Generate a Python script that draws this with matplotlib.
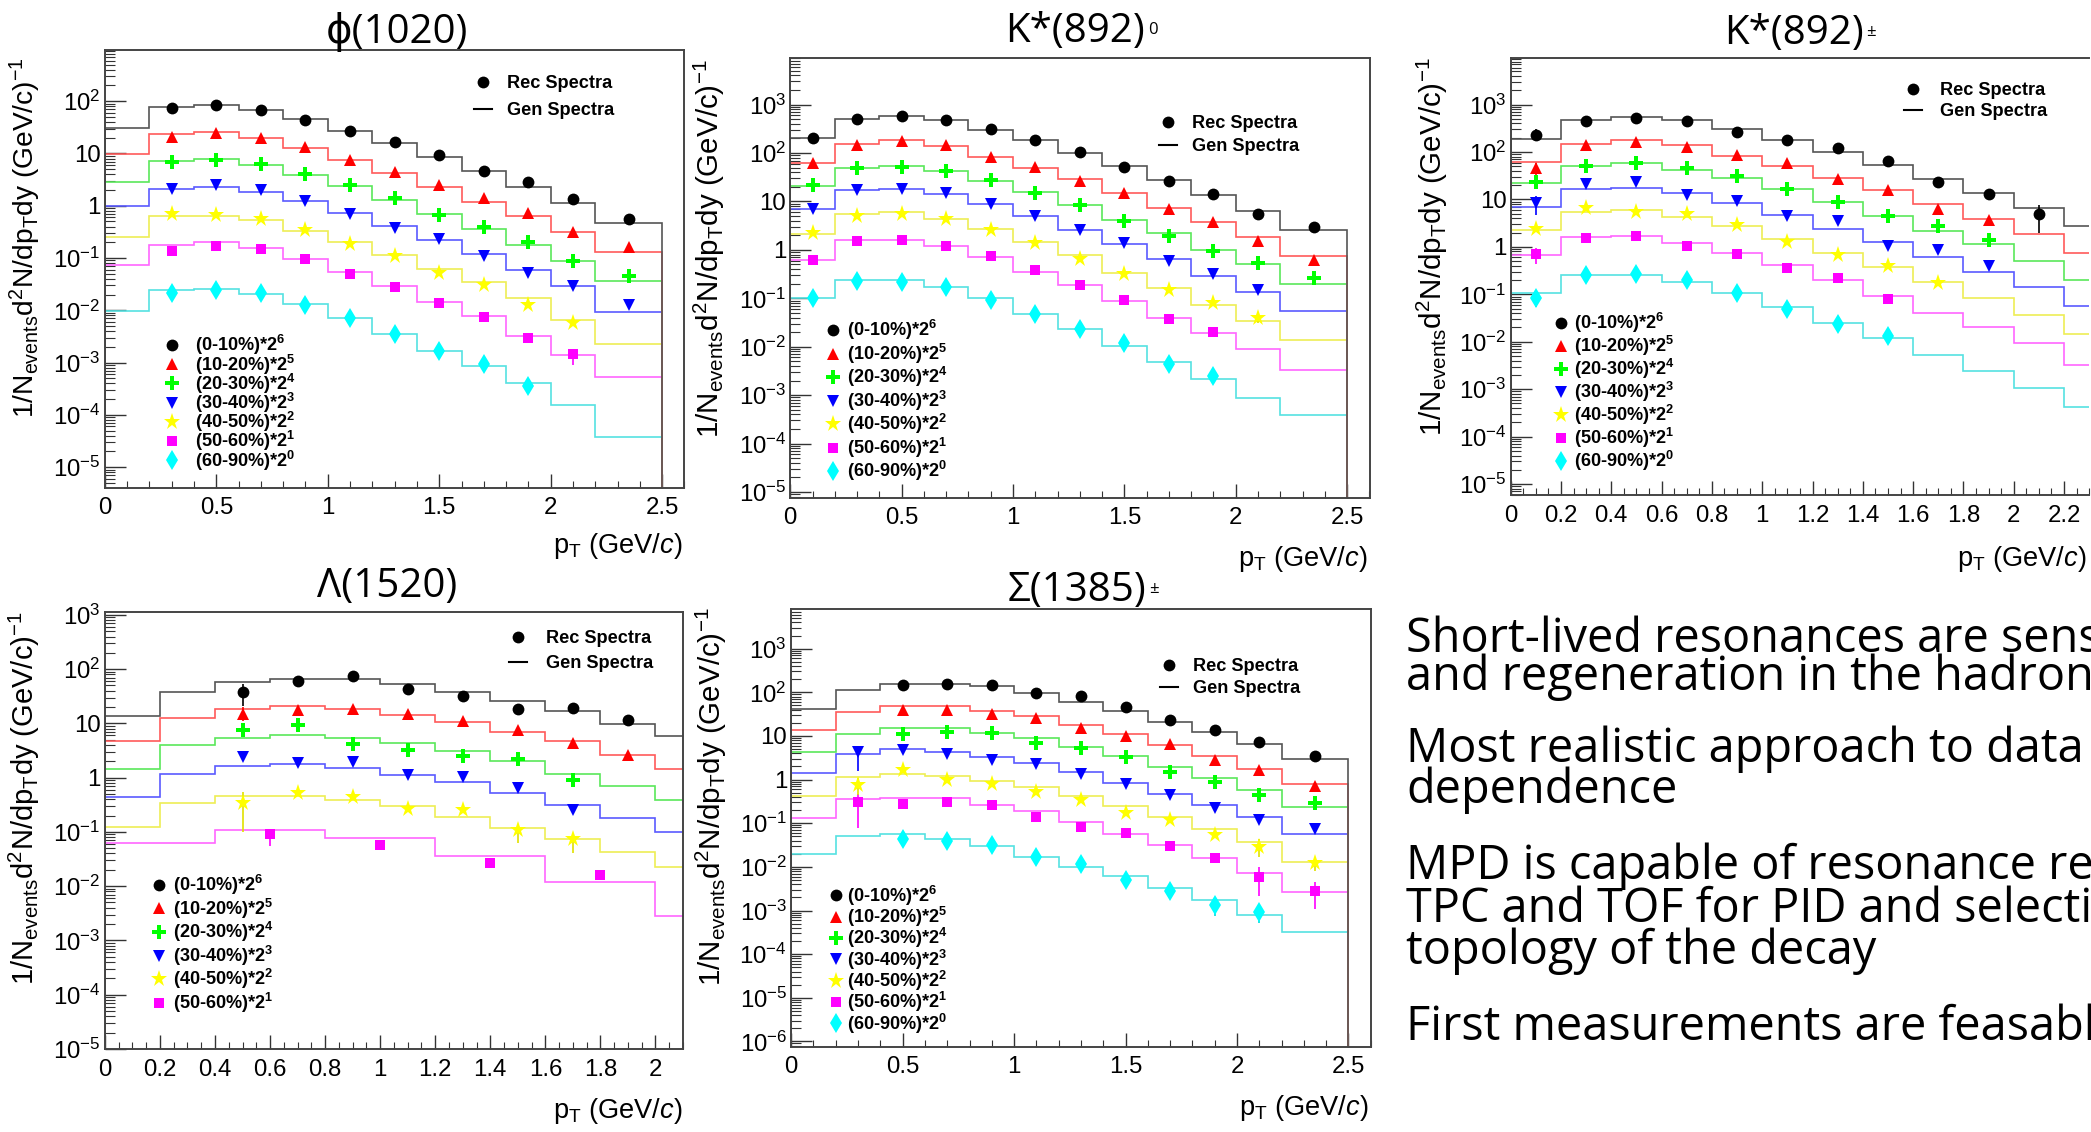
import numpy as np
import matplotlib
matplotlib.use('Agg')
import matplotlib.pyplot as plt
from matplotlib import font_manager as fm
from matplotlib.lines import Line2D
from matplotlib.text import Annotation
from matplotlib.ticker import LogLocator, MultipleLocator, FuncFormatter, NullFormatter

W, H, DPI = 2091, 1132, 100

names = {f.name for f in fm.fontManager.ttflist}
ROOTF = 'Liberation Sans'
SLIDEF = ['Open Sans', 'DejaVu Sans'] if 'Open Sans' in names else ['Lato', 'DejaVu Sans']

plt.rcParams['mathtext.fontset'] = 'custom'
plt.rcParams['mathtext.rm'] = ROOTF
plt.rcParams['mathtext.it'] = ROOTF + ':italic'
plt.rcParams['mathtext.bf'] = ROOTF + ':bold'
plt.rcParams['mathtext.default'] = 'regular'

# ---------------- data ----------------
CENTRALITY = ['0-10%', '10-20%', '20-30%', '30-40%', '40-50%', '50-60%', '60-90%']
SCALE_EXP = [6, 5, 4, 3, 2, 1, 0]

EDGES = [0, 0.2, 0.4, 0.6, 0.8, 1.0, 1.2, 1.4, 1.6, 1.8, 2.0, 2.2, 2.5]
REC_X = [0.1, 0.3, 0.5, 0.7, 0.9, 1.1, 1.3, 1.5, 1.7, 1.9, 2.1, 2.35]

# phi(1020)
PHI_GEN = [
    [30.8, 79, 85, 67, 45.5, 27.5, 15.9, 8.5, 4.66, 2.33, 1.13, 0.476],
    [9.6, 23.5, 26.2, 20.1, 12.5, 7.5, 4.17, 2.33, 1.19, 0.63, 0.311, 0.131],
    [2.9, 7.2, 7.8, 6.0, 3.85, 2.4, 1.28, 0.684, 0.364, 0.18, 0.0885, 0.037],
    [0.97, 2.12, 2.33, 1.84, 1.24, 0.72, 0.413, 0.22, 0.117, 0.06, 0.0295, 0.0093],
    [0.258, 0.65, 0.65, 0.54, 0.336, 0.2, 0.112, 0.063, 0.0345, 0.017, 0.0066, 0.0023],
    [0.073, 0.18, 0.2, 0.153, 0.0955, 0.055, 0.0295, 0.0145, 0.0077, 0.00325, 0.00137, 0.000533],
    [0.0098, 0.0245, 0.026, 0.0209, 0.013, 0.00715, 0.00352, 0.00168, 0.000855, 0.000408, 0.000151, 0.0000385],
]
PHI_REC = [
    [None, 74, 83, 67, 44, 27.5, 16.6, 9.4, 4.7, 2.8, 1.34, 0.566],
    [None, 20.7, 24.3, 20, 13.1, 7.5, 4.4, 2.5, 1.43, 0.72, 0.31, 0.161],
    [None, 7.0, 7.5, 6.2, 4.0, 2.5, 1.39, 0.68, 0.39, 0.2, 0.0885, 0.045],
    [None, 2.05, 2.5, 2.0, 1.24, 0.70, 0.376, 0.227, 0.107, 0.051, 0.0295, 0.0124],
    [None, 0.684, 0.66, 0.566, 0.347, 0.185, 0.107, 0.051, 0.031, 0.0124, 0.0058, None],
    [None, 0.137, 0.171, 0.149, 0.0955, 0.049, 0.0285, 0.0141, 0.0075, 0.0029, 0.00144, None],
    [None, 0.0215, 0.0244, 0.021, 0.0128, 0.00714, 0.00352, 0.00168, 0.000925, 0.000349, None, None],
]
PHI_ERR = [(5, 10, 0.00091, 0.0018)]

# K*(892)0
K0_GEN = [
    [205, 494, 570, 478, 297, 182, 102, 53, 27.2, 13.7, 6.4, 2.57],
    [63, 152, 188, 139, 82, 48.5, 28.6, 14.9, 7.4, 3.79, 1.81, 0.75],
    [21.2, 48.5, 55, 43, 26.2, 15.5, 8.4, 4.13, 2.23, 1.01, 0.5, 0.2],
    [7.0, 16.9, 18.5, 14.2, 8.8, 4.93, 2.57, 1.32, 0.65, 0.295, 0.134, 0.0537],
    [2.12, 5.57, 6.1, 4.28, 2.67, 1.44, 0.78, 0.34, 0.16, 0.0724, 0.034, 0.0141],
    [0.63, 1.57, 1.57, 1.21, 0.713, 0.352, 0.19, 0.0863, 0.039, 0.0193, 0.0091, 0.00333],
    [0.103, 0.24, 0.24, 0.174, 0.103, 0.0466, 0.023, 0.0104, 0.00473, 0.00215, 0.00089, 0.00039],
]
K0_REC = [
    [205, 503, 589, 478, 308, 188, 103, 51, 26, 14.2, 5.4, 2.9],
    [63, 145, 175, 145, 82, 51, 27, 14.9, 7.0, 3.79, 1.52, 0.63],
    [22, 48.5, 51, 43, 27.7, 14.9, 8.4, 3.93, 1.98, 0.96, 0.547, 0.261],
    [7.0, 16.9, 17.8, 14.9, 8.8, 4.93, 2.57, 1.39, 0.597, 0.312, 0.146, None],
    [2.23, 4.93, 5.57, 4.28, 2.57, 1.36, 0.65, 0.323, 0.146, 0.079, 0.039, None],
    [0.63, 1.49, 1.57, 1.21, 0.75, 0.385, 0.184, 0.091, 0.0377, 0.02, None, None],
    [0.103, 0.227, 0.219, 0.168, 0.094, 0.0483, 0.023, 0.0118, 0.00433, 0.00243, None, None],
]
K0_ERR = [(4, 10, 0.031, 0.05)]

# K*(892)+-
KPM_GEN = [
    [185, 470, 543, 470, 300, 181, 102, 52.5, 26.5, 13.6, 6.5, 2.7],
    [62.8, 146, 181, 141, 82, 49.7, 29, 15.5, 7.9, 3.87, 1.85, 0.73],
    [22, 49.7, 59.5, 41.5, 29, 16.9, 9.0, 4.39, 2.14, 1.14, 0.508, 0.2],
    [6.9, 16.3, 17.5, 13.6, 8.5, 4.63, 2.43, 1.25, 0.61, 0.296, 0.145, 0.0567],
    [2.26, 5.45, 5.96, 4.23, 2.7, 1.49, 0.755, 0.374, 0.179, 0.0841, 0.0375, 0.0147],
    [0.69, 1.63, 1.69, 1.2, 0.755, 0.425, 0.2, 0.092, 0.041, 0.02, 0.0092, 0.0033],
    [0.106, 0.257, 0.257, 0.179, 0.106, 0.0537, 0.0252, 0.0123, 0.00538, 0.0024, 0.00107, 0.00042],
]
KPM_REC = [
    [229, 446, 533, 461, 260, 175, 122, 65, 23, 13.2, 5.0, None],
    [45.4, 138, 160, 129, 85, 59.5, 27.5, 16, 6.3, 3.67, None, None],
    [23, 49.7, 57.4, 45.4, 31.7, 16.9, 9.0, 4.39, 2.7, 1.37, None, None],
    [8.5, 21.4, 23.4, 12.2, 9.33, 4.39, 3.54, 1.04, 0.84, 0.4, None, None],
    [2.43, 6.5, 5.55, 4.98, 2.9, 1.25, 0.665, 0.4, 0.173, None, None, None],
    [0.70, 1.55, 1.69, 1.04, 0.70, 0.355, 0.226, 0.08, None, None, None, None],
    [0.084, 0.257, 0.27, 0.2, 0.106, 0.049, 0.0239, 0.0132, None, None, None, None],
]
KPM_ERR = [(0, 10, 1.95, 7.5), (1, 0, 31.6, 59), (3, 0, 4.8, 11.8), (5, 0, 0.43, 0.95),
           (6, 0, 0.053, 0.108), (0, 0, 170, 300)]

# Lambda(1520)
LAM_EDGES = [0, 0.2, 0.4, 0.6, 0.8, 1.0, 1.2, 1.4, 1.6, 1.8, 2.0, 2.2]
LAM_EDGES_WIDE = [0, 0.4, 0.8, 1.2, 1.6, 2.0, 2.4]
LAM_REC_X = [0.5, 0.7, 0.9, 1.1, 1.3, 1.5, 1.7, 1.9]
LAM_REC_X_WIDE = [0.6, 1.0, 1.4, 1.8]
LAM_GEN = [
    [13.7, 38.7, 57, 66.6, 64.6, 52.8, 37.6, 26.3, 17.1, 9.6, 5.77],
    [4.65, 12.7, 18.5, 20.9, 18.7, 14.2, 10.4, 7.06, 4.65, 2.58, 1.46],
    [1.46, 3.92, 5.42, 6.05, 5.34, 4.44, 3.1, 2.05, 1.19, 0.69, 0.39],
    [0.449, 1.19, 1.67, 1.81, 1.5, 1.13, 0.847, 0.532, 0.31, 0.177, 0.1],
    [0.122, 0.345, 0.456, 0.456, 0.39, 0.305, 0.191, 0.117, 0.0734, 0.0427, 0.023],
    [0.0628, 0.108, 0.0769, 0.0355, 0.0118, 0.00284],
]
LAM_REC = [
    [38.7, 61.7, 74.3, 43.9, 32.2, 18.5, 19.3, 11.8],
    [14.8, 17.9, 18.5, 14.8, 11.2, 7.63, 4.3, 2.66],
    [7.63, 9.33, 4.1, 3.26, 2.47, 2.21, 0.9, None],
    [2.39, 1.84, 1.95, 1.1, 1.02, 0.641, 0.253, None],
    [0.345, 0.532, 0.436, 0.265, 0.253, 0.108, 0.0734, None],
    [0.0898, 0.0564, 0.0268, 0.0163],
]
LAM_ERR = [(0, 0, 20.9, 52.8), (4, 0, 0.1, 0.55), (4, 5, 0.0635, 0.134), (4, 6, 0.04, 0.095),
           (1, 0, 11, 20), (5, 0, 0.0546, 0.108)]

# Sigma(1385)+-
SIG_GEN = [
    [41.7, 113, 157, 157, 137, 94, 60.8, 36.5, 20.7, 12.4, 6.64, 3.0],
    [13.4, 35.2, 48.4, 48.4, 37.9, 28.5, 18.1, 11.1, 6.28, 3.43, 1.77, 0.784],
    [4.39, 11.1, 15.6, 15.6, 11.7, 8.83, 5.5, 3.43, 1.94, 1.1, 0.568, 0.233],
    [1.41, 3.77, 5.0, 4.39, 3.3, 2.35, 1.46, 0.83, 0.47, 0.267, 0.137, 0.0555],
    [0.428, 1.14, 1.38, 1.21, 0.912, 0.687, 0.428, 0.243, 0.137, 0.0736, 0.0366, 0.0129],
    [0.132, 0.354, 0.389, 0.375, 0.267, 0.193, 0.107, 0.0555, 0.0314, 0.0156, 0.00732, 0.00269],
    [0.0196, 0.0514, 0.0555, 0.0426, 0.0303, 0.0171, 0.0101, 0.00605, 0.00324, 0.0017, 0.0008, 0.000323],
]
SIG_REC = [
    [None, None, 151, 157, 145, 94, 82, 45.7, 22.7, 13.6, 7.3, 3.56],
    [None, None, 38.6, 38.6, 31.3, 25.9, 15.6, 10.1, 6.64, 2.84, 1.67, 0.727],
    [None, None, 11.3, 12.4, 11.7, 7.03, 5.2, 3.3, 1.46, 0.877, 0.445, 0.293],
    [None, 4.39, 4.73, 3.77, 2.84, 2.26, 1.33, 0.784, 0.445, 0.221, 0.118, 0.075],
    [None, 0.755, 1.67, 1.0, 0.784, 0.516, 0.334, 0.172, 0.12, 0.0533, 0.0286, 0.0122],
    [None, 0.304, 0.282, 0.304, 0.267, 0.137, 0.081, 0.0586, 0.0303, 0.0156, 0.00573, 0.00274],
    [None, None, 0.0442, 0.0387, 0.032, 0.0171, 0.0117, 0.005, 0.00274, 0.00133, 0.00091, None],
]
SIG_ERR = [(3, 1, 1.6, 6.0), (5, 1, 0.078, 0.47), (5, 10, 0.00214, 0.0098), (5, 11, 0.0011, 0.00457),
           (6, 9, 0.00075, 0.00191), (6, 10, 0.00051, 0.00134), (4, 10, 0.0172, 0.0444),
           (4, 11, 0.0082, 0.0171), (4, 1, 0.45, 1.1)]

TITLES = ['\u03d5(1020)', 'K*(892)', 'K*(892)', '\u039b(1520)', '\u03a3(1385)']
TITLE_SUFFIX = [None, '0', '\u00b1', None, '\u00b1']

BODY_LINES = [
    'Short-lived resonances are sensitive',
    'and regeneration in the hadronic',
    'Most realistic approach to data',
    'dependence',
    'MPD is capable of resonance reconstruction',
    'TPC and TOF for PID and selection',
    'topology of the decay',
    'First measurements are feasable',
]

# ---------------- style ----------------
COLORS = ['#000000', '#ff0000', '#00ff00', '#0000ff', '#ffff00', '#ff00ff', '#00ffff']
LINE_COLORS = ['#555555', '#ff5a5a', '#5ae85a', '#5a5aff', '#eeee55', '#ff66ff', '#55e2e2']
ERR_COLORS = ['#000000', '#ff0000', '#00cc00', '#0000ff', '#e0e000', '#ff00ff', '#00dddd']
MARKERS = ['o', '^', 'P', 'v', '*', 's', 'd']
MSIZES = [8.5, 8.5, 9.5, 8.5, 12.5, 7.5, 10]

TICK_FS = 17.3
TITLE_FS = 29

YLAB = r'1/N$_{events}$d$^{2}$N/dp$_{T}$dy (GeV/c)$^{-1}$'
XLAB = r'p$_{T}$ (GeV/$\mathit{c}$)'

fig = plt.figure(figsize=(W / DPI, H / DPI), dpi=DPI)
fig.patch.set_facecolor('white')
renderer = fig.canvas.get_renderer()


def fx(x):
    return x / W


def fy(y):
    return 1 - y / H


def fmt_y(v, pos):
    e = int(round(np.log10(v)))
    if e == 0:
        return '1'
    if e == 1:
        return '10'
    return r'$10^{%d}$' % e


def fmt_x(v, pos):
    s = ('%.2f' % v).rstrip('0').rstrip('.')
    return '0' if s in ('-0', '') else s


def fit_size(s, target, family, weight='normal', rotation=0, base=20.0):
    t = fig.text(0, 0.5, s, fontsize=base, family=family, weight=weight, rotation=rotation)
    bb = t.get_window_extent(renderer)
    t.remove()
    span = bb.height if rotation == 90 else bb.width
    return base * target / span


LEG_FS = fit_size('Rec Spectra', 105, ROOTF, 'bold')
LEG_PX = LEG_FS * DPI / 72.0
LEGENDS = []


def make_legend(d):
    d['leg'] = fig.legend(d['handles'], d['labels'], loc='upper left',
                          bbox_to_anchor=(fx(d['left']), fy(d['top'])),
                          bbox_transform=fig.transFigure, frameon=False,
                          prop={'family': ROOTF, 'weight': 'bold', 'size': LEG_FS},
                          handlelength=d['hl'], handletextpad=d['pad'], labelspacing=d['ls'],
                          borderpad=0, borderaxespad=0, numpoints=1)


def add_legend(handles, labels, marker_x, row1_y, text_x, pitch, hl=1.0):
    d = dict(handles=handles, labels=labels, hl=hl,
             target=(marker_x, row1_y, text_x, pitch),
             left=marker_x - 0.5 * hl * LEG_PX, top=row1_y - 0.6 * LEG_PX,
             pad=(text_x - marker_x) / LEG_PX - 0.5 * hl, ls=(pitch / LEG_PX) - 1.1)
    make_legend(d)
    LEGENDS.append(d)


def measure_legend(d):
    leg = d['leg']
    hs = leg.legend_handles
    b0 = hs[0].get_window_extent(renderer)
    b1 = hs[1].get_window_extent(renderer)
    t0 = leg.get_texts()[0].get_window_extent(renderer)
    mx = 0.5 * (b0.x0 + b0.x1)
    my = H - 0.5 * (b0.y0 + b0.y1)
    my1 = H - 0.5 * (b1.y0 + b1.y1)
    return mx, my, my1 - my, t0.x0


def correct_legends():
    for _ in range(3):
        fig.canvas.draw()
        for d in LEGENDS:
            mx, my, pitch, tx = measure_legend(d)
            tmx, tmy, ttx, tpitch = d['target']
            d['left'] += tmx - mx
            d['top'] += tmy - my
            d['pad'] += ((ttx - tmx) - (tx - mx)) / LEG_PX
            d['ls'] += (tpitch - pitch) / LEG_PX
            d['leg'].remove()
            make_legend(d)


def draw_panel(k, spec, edges_list, gen, rec_x_list, rec, errs):
    l, t, r, b = spec['box']
    ax = fig.add_axes([fx(l), fy(b), (r - l) / W, (b - t) / H])
    ax.set_yscale('log')
    ax.set_xlim(*spec['xlim'])
    ax.set_ylim(10 ** spec['ylog'][0], 10 ** spec['ylog'][1])
    n = len(gen)
    for i in reversed(range(n)):
        ax.stairs(gen[i], edges_list[i], baseline=1e-12, color=LINE_COLORS[i], lw=1.2,
                  zorder=2 + (n - i) * 0.01)
    for (i, j, lo, hi) in errs:
        ax.vlines(rec_x_list[i][j], lo, hi, color=ERR_COLORS[i], lw=1.2, zorder=4)
    for i in range(n):
        xs = [x for x, v in zip(rec_x_list[i], rec[i]) if v is not None]
        ys = [v for v in rec[i] if v is not None]
        ax.plot(xs, ys, ls='none', marker=MARKERS[i], color=COLORS[i], ms=MSIZES[i], mew=0, zorder=5)

    ax.yaxis.set_major_locator(LogLocator(base=10, numticks=30))
    ax.yaxis.set_minor_locator(LogLocator(base=10, subs=np.arange(2, 10), numticks=30))
    ax.yaxis.set_major_formatter(FuncFormatter(fmt_y))
    ax.yaxis.set_minor_formatter(NullFormatter())
    ax.xaxis.set_major_locator(MultipleLocator(spec['xmaj']))
    ax.xaxis.set_minor_locator(MultipleLocator(spec['xmin']))
    ax.xaxis.set_major_formatter(FuncFormatter(fmt_x))
    ax.tick_params(which='both', direction='in', top=False, right=False, color='#333333')
    ax.tick_params(axis='y', which='major', length=15, width=1.0, pad=3,
                   labelsize=TICK_FS, labelfontfamily=ROOTF)
    ax.tick_params(axis='y', which='minor', length=7.5, width=0.8)
    ax.tick_params(axis='x', which='major', length=10, width=1.0, pad=7,
                   labelsize=TICK_FS, labelfontfamily=ROOTF)
    ax.tick_params(axis='x', which='minor', length=5, width=0.8)
    for s in ax.spines.values():
        s.set_color('#444444')
        s.set_linewidth(1.4)
    if spec.get('noright'):
        ax.spines['right'].set_visible(False)

    # titles and axis labels
    tx, ty = spec['title_xy']
    tt = fig.text(fx(tx), fy(ty), TITLES[k], ha='center', va='baseline',
                  fontsize=TITLE_FS, family=SLIDEF)
    if TITLE_SUFFIX[k]:
        ann = Annotation(TITLE_SUFFIX[k], xy=(1.0, 0.55), xycoords=tt, xytext=(2, 0),
                         textcoords='offset points', ha='left', va='center',
                         fontsize=12, family=SLIDEF)
        fig.add_artist(ann)
    yx, yt, ylen = spec['ylab']
    yfs = fit_size(YLAB, ylen, ROOTF, rotation=90)
    fig.text(fx(yx), fy(yt), YLAB, rotation=90, ha='center', va='top',
             fontsize=yfs, family=ROOTF)
    xr, xb = spec['xlab_xy']
    xfs = fit_size(XLAB, 129.5, ROOTF)
    fig.text(fx(xr), fy(xb), XLAB, ha='right', va='baseline', fontsize=xfs, family=ROOTF)

    # legends
    mx, my, tx2, pitch = spec['top_leg']
    h_top = [Line2D([], [], ls='none', marker='o', color='k', ms=8.5, mew=0),
             Line2D([], [], color='k', lw=1.5)]
    add_legend(h_top, ['Rec Spectra', 'Gen Spectra'], mx, my, tx2, pitch, hl=0.95)
    mx, my, tx2, pitch = spec['low_leg']
    h_low = [Line2D([], [], ls='none', marker=MARKERS[i], color=COLORS[i], ms=MSIZES[i], mew=0)
             for i in range(n)]
    labs = [f'({CENTRALITY[i]})*2$^{{{SCALE_EXP[i]}}}$' for i in range(n)]
    add_legend(h_low, labs, mx, my, tx2, pitch, hl=1.0)
    return ax


SPECS = [
    dict(box=(104.9, 50, 684.4, 487.5), xlim=(0, 2.60), ylog=(-5.39, 2.98), xmaj=0.5, xmin=0.1,
         title_xy=(397, 43), ylab=(25.5, 57, 361), xlab_xy=(683, 553),
         top_leg=(483, 82, 507, 27), low_leg=(172, 345, 195, 19.2)),
    dict(box=(790.3, 58.1, 1370.2, 497.6), xlim=(0, 2.604), ylog=(-5.115, 3.96), xmaj=0.5, xmin=0.1,
         title_xy=(1075, 42.5), ylab=(709, 59, 379), xlab_xy=(1368, 566),
         top_leg=(1168, 122, 1192, 23), low_leg=(833, 330, 847, 23.5)),
    dict(box=(1510.7, 58.1, 2089.2, 495), xlim=(0, 2.30), ylog=(-5.23, 3.98), xmaj=0.2, xmin=0.05,
         title_xy=(1793.5, 44), ylab=(1432.5, 57, 378), xlab_xy=(2087, 566), noright=True,
         top_leg=(1913, 88.8, 1940, 21), low_leg=(1561, 322.6, 1574, 23)),
    dict(box=(104.9, 612.2, 683, 1048.9), xlim=(0, 2.10), ylog=(-5.0, 3.05), xmaj=0.2, xmin=0.05,
         title_xy=(387, 597), ylab=(24.5, 611, 374), xlab_xy=(683, 1118),
         top_leg=(518, 636.6, 545.5, 25.5), low_leg=(159, 884.7, 173, 23.6)),
    dict(box=(791.2, 609.4, 1370.7, 1046.7), xlim=(0, 2.60), ylog=(-6.12, 3.90), xmaj=0.5, xmin=0.1,
         title_xy=(1077, 601), ylab=(711, 607.6, 378), xlab_xy=(1369, 1114.8),
         top_leg=(1169, 665, 1193, 21.5), low_leg=(836, 895.4, 847, 21.3)),
]

draw_panel(0, SPECS[0], [EDGES] * 7, PHI_GEN, [REC_X] * 7, PHI_REC, PHI_ERR)
draw_panel(1, SPECS[1], [EDGES] * 7, K0_GEN, [REC_X] * 7, K0_REC, K0_ERR)
draw_panel(2, SPECS[2], [EDGES] * 7, KPM_GEN, [REC_X] * 7, KPM_REC, KPM_ERR)
draw_panel(3, SPECS[3], [LAM_EDGES] * 5 + [LAM_EDGES_WIDE], LAM_GEN,
           [LAM_REC_X] * 5 + [LAM_REC_X_WIDE], LAM_REC, LAM_ERR)
draw_panel(4, SPECS[4], [EDGES] * 7, SIG_GEN, [REC_X] * 7, SIG_REC, SIG_ERR)

BODY_FS = fit_size('topology of the decay', 469, SLIDEF)
BODY_X = 1406.5
BODY_BASELINES = [652, 690, 762, 803, 879, 922, 964, 1040]
for line, yb in zip(BODY_LINES, BODY_BASELINES):
    fig.text(fx(BODY_X), fy(yb), line, ha='left', va='baseline', fontsize=BODY_FS,
             family=SLIDEF, color='black')

correct_legends()
fig.savefig('out.png', dpi=DPI, facecolor='white')
